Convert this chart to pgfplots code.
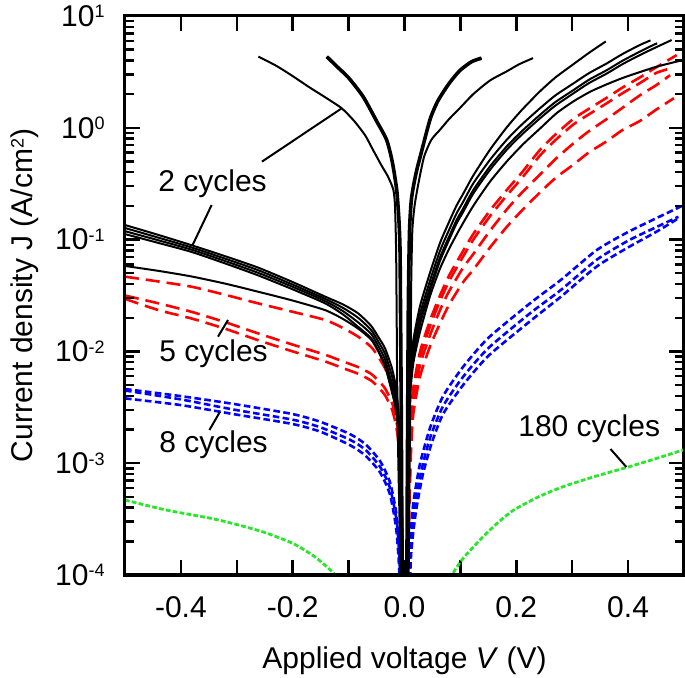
\documentclass[border=0pt]{standalone}
\usepackage{fontspec}
\setmainfont{Liberation Sans}
\usepackage{pgfplots}
\pgfplotsset{compat=1.18}
\newcommand\sups[1]{\raisebox{4.3pt}{\fontsize{9}{9}\selectfont #1}}
\definecolor{cRed}{RGB}{255,0,0}
\definecolor{cBlue}{RGB}{0,0,255}
\definecolor{cGreen}{RGB}{40,230,40}
\pgfplotsset{
  sBlk/.style={black, line width=1pt, smooth, tension=0.4},
  sBlkT/.style={black, line width=1.8pt, smooth, tension=0.4},
  sRed/.style={cRed, line width=1.3pt, dash pattern=on 7pt off 3.5pt, smooth, tension=0.4},
  sBlu/.style={cBlue, line width=1.3pt, dash pattern=on 3.3pt off 1.7pt, smooth, tension=0.4},
  sGrn/.style={cGreen, line width=1.4pt, dash pattern=on 2.4pt off 1.1pt, smooth, tension=0.4},
}
\tikzset{tickln/.style={draw=black, line width=1.2pt, solid}}
\begin{document}
\fontsize{15}{18}\selectfont
\begin{tikzpicture}
\path[use as bounding box] (-62.5pt,-51.5pt) rectangle (280pt,287.5pt);
% frame, tick labels and axis labels
\begin{axis}[at={(0,0)}, anchor=south west,
  scale only axis, width=279.5pt, height=279.5pt,
  xmin=-0.5, xmax=0.5, ymin=1e-4, ymax=10, ymode=log,
  xtick={-0.4,-0.3,-0.2,-0.1,0,0.1,0.2,0.3,0.4},
  xticklabels={-0.4,,-0.2,,0.0,,0.2,,0.4},
  ytick={1e-4,1e-3,1e-2,1e-1,1,10},
  yticklabels={10\sups{-4},10\sups{-3},10\sups{-2},10\sups{-1},10\sups{0},10\sups{1}},
  tick align=inside,
  major tick length=7.5pt,
  tick style={black, line width=1.2pt},
  axis line style={black, line width=1.5pt},
  ticklabel style={font=\fontsize{15}{18}\selectfont, inner sep=0pt},
  xticklabel style={yshift=-10.5pt},
  yticklabel style={xshift=-10pt},
  xlabel={Applied voltage \textit{V} (V)},
  ylabel={Current density J (A/cm\sups{2})},
  every axis x label/.style={at={(axis description cs:0.5,-0.168)}, anchor=base},
  every axis y label/.style={at={(axis description cs:-0.166,0.5)}, rotate=90, anchor=base},
]
\addplot[draw=none] coordinates {(0,1)};
\end{axis}
% data
\begin{axis}[at={(0,0)}, anchor=south west,
    scale only axis, width=279.5pt, height=279.5pt,
    xmin=-0.5, xmax=0.5, ymin=1e-4, ymax=10, ymode=log,
    hide axis, no markers]
% 180 cycles
\addplot[sGrn] coordinates {(-0.5,4.68e-4) (-0.425,3.80e-4) (-0.35,3.24e-4) (-0.306,2.88e-4) (-0.25,2.40e-4) (-0.199,1.91e-4) (-0.16,1.45e-4) (-0.127,1.04e-4) (-0.1,7.08e-5)};
\addplot[sGrn] coordinates {(0.08,7.94e-5) (0.087,1.04e-4) (0.105,1.41e-4) (0.135,2.06e-4) (0.165,2.88e-4) (0.195,3.80e-4) (0.24,5.01e-4) (0.284,6.17e-4) (0.34,7.59e-4) (0.403,9.33e-4) (0.45,1.10e-3) (0.5,1.32e-3)};
% 8 cycles
\addplot[sBlu] coordinates {(-0.5,4.61e-3) (-0.4,3.98e-3) (-0.306,3.39e-3) (-0.2,2.75e-3) (-0.15,2.34e-3) (-0.0975,1.82e-3) (-0.07,1.48e-3) (-0.044,1.05e-3) (-0.026,6.76e-4) (-0.014,3.39e-4) (-0.008,1.41e-4) (-0.005,5e-5)};
\addplot[sBlu] coordinates {(-0.5,4.47e-3) (-0.4,3.72e-3) (-0.306,3.02e-3) (-0.2,2.45e-3) (-0.15,2.09e-3) (-0.0975,1.62e-3) (-0.07,1.32e-3) (-0.044,9.33e-4) (-0.026,6.03e-4) (-0.014,3.02e-4) (-0.009,1.41e-4) (-0.006,5e-5)};
\addplot[sBlu] coordinates {(-0.5,3.80e-3) (-0.4,3.31e-3) (-0.306,2.75e-3) (-0.2,2.24e-3) (-0.15,1.91e-3) (-0.0975,1.45e-3) (-0.07,1.17e-3) (-0.044,8.32e-4) (-0.026,5.25e-4) (-0.015,2.63e-4) (-0.010,1.26e-4) (-0.007,5e-5)};
\addplot[sBlu] coordinates {(0.006,5e-5) (0.010,2.0e-4) (0.016,4.47e-4) (0.028,1.0e-3) (0.046,2.09e-3) (0.069,3.98e-3) (0.105,7.29e-3) (0.15,0.0132) (0.2245,0.0269) (0.28,0.0437) (0.344,0.0807) (0.40,0.117) (0.45,0.155) (0.50,0.204)};
\addplot[sBlu] coordinates {(0.007,5e-5) (0.011,1.78e-4) (0.018,3.98e-4) (0.03,8.51e-4) (0.046,1.70e-3) (0.069,3.24e-3) (0.105,5.94e-3) (0.15,0.0107) (0.2245,0.0219) (0.28,0.0355) (0.344,0.0661) (0.40,0.0977) (0.45,0.129) (0.49,0.160)};
\addplot[sBlu] coordinates {(0.008,5e-5) (0.012,1.58e-4) (0.02,3.55e-4) (0.032,7.59e-4) (0.048,1.48e-3) (0.069,2.75e-3) (0.105,5.01e-3) (0.15,9.12e-3) (0.2245,0.0186) (0.28,0.0309) (0.344,0.0575) (0.40,0.0851) (0.45,0.117) (0.49,0.155)};
% 5 cycles
\addplot[sRed] coordinates {(-0.5,0.0466) (-0.44,0.0422) (-0.381,0.0379) (-0.32,0.0320) (-0.262,0.0269) (-0.2,0.0226) (-0.142,0.0191) (-0.11,0.0162) (-0.083,0.01355) (-0.06,0.0110) (-0.047,0.00897) (-0.035,0.00708) (-0.023,0.00519) (-0.016,0.00372) (-0.011,0.00261) (-0.007,0.0010) (-0.004,1.6e-4) (-0.002,5e-5)};
\addplot[sRed] coordinates {(-0.5,0.0316) (-0.44,0.0269) (-0.381,0.0226) (-0.32,0.0182) (-0.262,0.0145) (-0.2,0.0115) (-0.142,0.00933) (-0.11,0.00813) (-0.083,0.00724) (-0.06,0.00631) (-0.047,0.00550) (-0.035,0.00468) (-0.023,0.00355) (-0.016,0.00263) (-0.011,0.00178) (-0.007,7.94e-4) (-0.004,1.58e-4) (-0.002,5e-5)};
\addplot[sRed] coordinates {(-0.5,0.0295) (-0.44,0.0234) (-0.381,0.0197) (-0.32,0.0159) (-0.262,0.0126) (-0.2,0.0100) (-0.142,0.00813) (-0.11,0.00708) (-0.083,0.00631) (-0.06,0.00550) (-0.047,0.00479) (-0.035,0.00407) (-0.023,0.00309) (-0.016,0.00229) (-0.011,0.00155) (-0.007,6.92e-4) (-0.004,1.38e-4) (-0.002,5e-5)};
\addplot[sRed] coordinates {(0.005,5e-5) (0.008,5.0e-4) (0.012,2.51e-3) (0.016,4.79e-3) (0.028,0.0100) (0.046,0.0191) (0.0635,0.0316) (0.08,0.0479) (0.105,0.0794) (0.123,0.112) (0.153,0.182) (0.183,0.278) (0.21,0.398) (0.242,0.631) (0.27,0.871) (0.302,1.20) (0.33,1.48) (0.362,1.86) (0.39,2.29) (0.421,2.82) (0.45,3.47) (0.487,4.47)};
\addplot[sRed] coordinates {(0.005,5e-5) (0.008,4.46e-4) (0.012,2.24e-3) (0.016,4.27e-3) (0.028,8.91e-3) (0.046,0.0170) (0.0635,0.0282) (0.08,0.0427) (0.105,0.0708) (0.123,0.0998) (0.153,0.162) (0.183,0.248) (0.21,0.355) (0.242,0.562) (0.27,0.776) (0.302,1.07) (0.33,1.32) (0.362,1.66) (0.39,2.04) (0.421,2.51) (0.45,3.09) (0.475,3.39)};
\addplot[sRed] coordinates {(0.005,5e-5) (0.008,3.98e-4) (0.012,1.78e-3) (0.016,3.55e-3) (0.028,7.59e-3) (0.046,0.0141) (0.0635,0.0234) (0.08,0.0347) (0.105,0.0562) (0.123,0.0741) (0.153,0.120) (0.183,0.186) (0.21,0.263) (0.242,0.380) (0.27,0.525) (0.302,0.724) (0.33,0.933) (0.362,1.20) (0.39,1.51) (0.421,1.95) (0.45,2.40) (0.475,2.95)};
\addplot[sRed] coordinates {(0.005,5e-5) (0.008,3.16e-4) (0.012,1.41e-3) (0.016,2.82e-3) (0.028,6.03e-3) (0.046,0.0112) (0.0635,0.0178) (0.08,0.0263) (0.105,0.0417) (0.123,0.0537) (0.153,0.0851) (0.183,0.130) (0.21,0.182) (0.242,0.263) (0.27,0.355) (0.302,0.468) (0.33,0.603) (0.362,0.759) (0.39,0.955) (0.421,1.15) (0.45,1.45) (0.482,1.84)};
% 2 cycles, left branches
\addplot[sBlk] coordinates {(-0.5,0.135) (-0.44,0.110) (-0.381,0.0891) (-0.32,0.0708) (-0.262,0.0562) (-0.2,0.0417) (-0.142,0.0309) (-0.11,0.0263) (-0.083,0.0219) (-0.06,0.0170) (-0.047,0.0135) (-0.035,0.0107) (-0.023,0.00724) (-0.016,0.00501) (-0.011,0.00302) (-0.007,0.00126) (-0.004,3.16e-4) (-0.002,5e-5)};
\addplot[sBlk] coordinates {(-0.5,0.127) (-0.44,0.104) (-0.381,0.0851) (-0.32,0.0673) (-0.262,0.0533) (-0.2,0.0396) (-0.142,0.0295) (-0.11,0.0245) (-0.083,0.0200) (-0.06,0.0156) (-0.047,0.0123) (-0.035,0.00955) (-0.023,0.00617) (-0.016,0.00430) (-0.011,0.00263) (-0.007,0.00108) (-0.004,2.51e-4) (-0.002,5e-5)};
\addplot[sBlk] coordinates {(-0.5,0.119) (-0.44,0.0985) (-0.381,0.0813) (-0.32,0.0641) (-0.262,0.0505) (-0.2,0.0378) (-0.142,0.0282) (-0.11,0.0229) (-0.083,0.0182) (-0.06,0.0144) (-0.047,0.0112) (-0.035,0.00851) (-0.023,0.00525) (-0.016,0.00369) (-0.011,0.00229) (-0.007,9.27e-4) (-0.004,2.0e-4) (-0.002,5e-5)};
\addplot[sBlk] coordinates {(-0.5,0.112) (-0.44,0.0933) (-0.381,0.0776) (-0.32,0.0610) (-0.262,0.0479) (-0.2,0.0359) (-0.142,0.0269) (-0.11,0.0214) (-0.083,0.0166) (-0.06,0.0132) (-0.047,0.0102) (-0.035,0.00759) (-0.023,0.00447) (-0.016,0.00316) (-0.011,0.00200) (-0.007,7.94e-4) (-0.004,1.58e-4) (-0.002,5e-5)};
\addplot[sBlk] coordinates {(-0.5,0.0581) (-0.44,0.0525) (-0.381,0.0468) (-0.32,0.0403) (-0.262,0.0342) (-0.2,0.0285) (-0.142,0.0234) (-0.11,0.0195) (-0.083,0.0160) (-0.06,0.0128) (-0.047,0.0100) (-0.035,0.0074) (-0.023,0.0045) (-0.016,0.0032) (-0.011,0.0020) (-0.007,7.9e-4) (-0.004,1.6e-4) (-0.002,5e-5)};
\addplot[sBlk] coordinates {(-0.2615,4.33) (-0.23,3.6) (-0.20,2.9) (-0.17,2.3) (-0.14,1.85) (-0.112,1.49) (-0.09,1.15) (-0.07,0.85) (-0.056,0.63) (-0.04,0.45) (-0.03,0.37) (-0.02,0.28) (-0.017,0.2) (-0.015,0.08) (-0.014,0.02) (-0.013,0.005) (-0.011,0.001) (-0.008,2e-4) (-0.006,5e-5)};
\addplot[sBlkT] coordinates {(-0.139,4.33) (-0.12,3.5) (-0.10,2.8) (-0.074,1.9) (-0.05,1.15) (-0.032,0.78) (-0.022,0.5) (-0.014,0.28) (-0.010,0.15) (-0.008,0.08) (-0.007,0.02) (-0.006,0.004) (-0.005,5e-4) (-0.004,5e-5)};
% 2 cycles, right branches
\addplot[sBlkT] coordinates {(0.004,5e-5) (0.005,6e-4) (0.006,0.005) (0.007,0.03) (0.009,0.12) (0.012,0.22) (0.016,0.3) (0.022,0.42) (0.03,0.6) (0.046,1.2) (0.06,1.75) (0.08,2.5) (0.099,3.25) (0.12,3.9) (0.138,4.2)};
\addplot[sBlk] coordinates {(0.007,5e-5) (0.009,8e-4) (0.011,0.008) (0.012,0.04) (0.014,0.12) (0.018,0.2) (0.025,0.32) (0.035,0.55) (0.048,0.78) (0.0635,0.96) (0.08,1.2) (0.099,1.5) (0.123,2.0) (0.153,2.65) (0.183,3.2) (0.205,3.7) (0.23,4.2)};
\addplot[sBlk] coordinates {(0.004,6.3e-5) (0.006,3.98e-4) (0.008,2.52e-3) (0.010,6.61e-3) (0.016,0.0128) (0.028,0.0257) (0.046,0.0512) (0.0635,0.0933) (0.08,0.145) (0.093,0.201) (0.105,0.257) (0.123,0.374) (0.153,0.638) (0.183,1.01) (0.21,1.445) (0.242,2.11) (0.27,2.82) (0.302,3.70) (0.33,4.68) (0.36,5.92)};
\addplot[sBlk] coordinates {(0.004,5.35e-5) (0.006,3.38e-4) (0.008,2.14e-3) (0.010,5.62e-3) (0.016,0.0109) (0.028,0.0218) (0.046,0.0435) (0.0635,0.0793) (0.08,0.123) (0.093,0.171) (0.105,0.218) (0.123,0.318) (0.153,0.518) (0.183,0.782) (0.21,1.07) (0.242,1.49) (0.27,1.95) (0.302,2.49) (0.33,3.08) (0.362,3.77) (0.39,4.57) (0.421,5.50) (0.44,6.05)};
\addplot[sBlk] coordinates {(0.004,4.67e-5) (0.006,2.95e-4) (0.008,1.87e-3) (0.010,4.90e-3) (0.016,9.52e-3) (0.028,0.0190) (0.046,0.0380) (0.0635,0.0691) (0.08,0.107) (0.093,0.149) (0.105,0.190) (0.123,0.277) (0.153,0.452) (0.183,0.682) (0.21,0.933) (0.242,1.30) (0.27,1.70) (0.302,2.17) (0.33,2.69) (0.362,3.28) (0.39,3.98) (0.421,4.80) (0.445,5.50) (0.452,5.7)};
\addplot[sBlk] coordinates {(0.004,4.35e-5) (0.006,2.75e-4) (0.008,1.74e-3) (0.010,4.57e-3) (0.016,8.87e-3) (0.028,0.0177) (0.046,0.0354) (0.0635,0.0645) (0.08,0.100) (0.093,0.139) (0.105,0.177) (0.123,0.258) (0.153,0.421) (0.183,0.636) (0.21,0.87) (0.242,1.21) (0.27,1.58) (0.302,2.03) (0.33,2.51) (0.362,3.06) (0.39,3.71) (0.421,4.47) (0.45,5.25) (0.478,6.1)};
\addplot[sBlk] coordinates {(0.004,5e-5) (0.006,2.51e-4) (0.008,1.58e-3) (0.010,3.98e-3) (0.016,7.94e-3) (0.028,0.0151) (0.046,0.0316) (0.0635,0.055) (0.08,0.083) (0.099,0.125) (0.123,0.20) (0.153,0.33) (0.183,0.50) (0.213,0.72) (0.242,0.98) (0.272,1.35) (0.302,1.72) (0.332,2.1) (0.362,2.45) (0.391,2.8) (0.421,3.15) (0.451,3.52) (0.493,3.98)};
% labels
\node[anchor=base west, inner sep=0pt] at (axis cs:-0.441,0.267) {2 cycles};
\draw[line width=1pt] (axis cs:-0.255,0.498) -- (axis cs:-0.1123,1.494);
\draw[line width=1pt] (axis cs:-0.345,0.204) -- (axis cs:-0.379,0.0895);
\node[anchor=base west, inner sep=0pt] at (axis cs:-0.4392,0.00809) {5 cycles};
\draw[line width=1pt] (axis cs:-0.3336,0.01355) -- (axis cs:-0.3157,0.0191);
\node[anchor=base west, inner sep=0pt] at (axis cs:-0.4392,1.25e-3) {8 cycles};
\draw[line width=1pt] (axis cs:-0.349,1.98e-3) -- (axis cs:-0.330,2.89e-3);
\node[anchor=base west, inner sep=0pt] at (axis cs:0.203,1.73e-3) {180 cycles};
\draw[line width=1pt] (axis cs:0.3685,1.34e-3) -- (axis cs:0.3968,9.25e-4);
\end{axis}
% tick marks and frame on the 279.5pt axis box (0.1 V = 27.95pt, one decade = 55.9pt)
\foreach \d in {1,2,3,4}{
  \draw[tickln] (0pt,{\d*55.9pt}) -- ++(7.5pt,0pt);
  \draw[tickln] (279.5pt,{\d*55.9pt}) -- ++(-7.5pt,0pt);
}
\foreach \d in {0,1,2,3,4}{
  \foreach \k in {2,...,9}{
    \pgfmathsetmacro\yy{(\d+log10(\k))*55.9}
    \draw[tickln] (0pt,\yy pt) -- ++(4.5pt,0pt);
    \draw[tickln] (279.5pt,\yy pt) -- ++(-4.5pt,0pt);
  }
}
\foreach \k in {1,3,5,7,9}{
  \draw[tickln] ({\k*27.95pt},0pt) -- ++(0pt,7.5pt);
}
\foreach \k in {2,4,6,8}{
  \draw[tickln] ({\k*27.95pt},0pt) -- ++(0pt,4.5pt);
}
\foreach \k in {1,...,9}{
  \draw[tickln] ({\k*27.95pt},279.5pt) -- ++(0pt,-7.5pt);
}
\draw[black, line width=1.5pt, solid] (0pt,0pt) rectangle (279.5pt,279.5pt);
\end{tikzpicture}
\end{document}
